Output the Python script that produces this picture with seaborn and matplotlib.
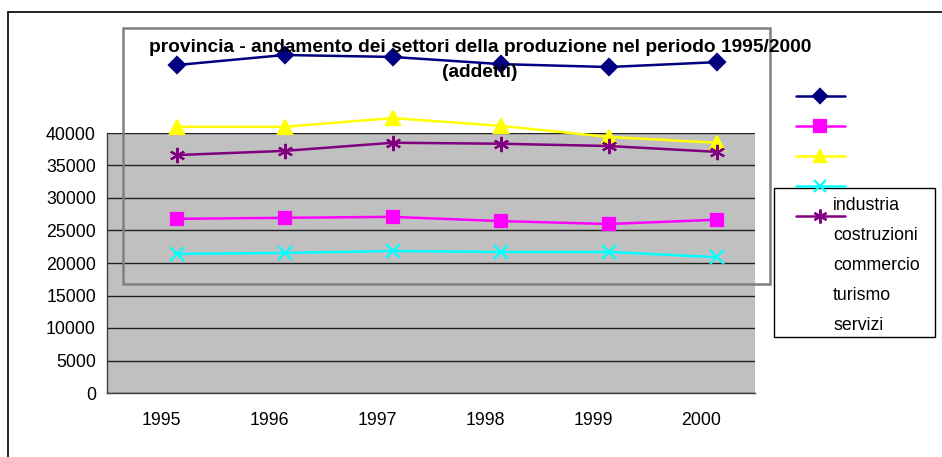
"""
Grafico: andamento dei settori della produzione 1995/2000 (addetti)
"""
import matplotlib
matplotlib.use('Agg')
import matplotlib.pyplot as plt
import matplotlib.transforms as mtrans
from matplotlib.lines import Line2D
from matplotlib.patches import Rectangle
import seaborn as sns
import pandas as pd

# Dati
anni = ['1995', '1996', '1997', '1998', '1999', '2000']
industria = [50450, 52000, 51700, 50600, 50150, 50900]
costruzioni = [26800, 26950, 27100, 26450, 26000, 26650]
commercio = [40950, 40950, 42300, 41100, 39400, 38500]
turismo = [21400, 21550, 21850, 21700, 21700, 20900]
servizi = [36600, 37250, 38500, 38350, 38000, 37100]

settori = ['industria', 'costruzioni', 'commercio', 'turismo', 'servizi']
valori = [industria, costruzioni, commercio, turismo, servizi]
colori = ['#000080', '#FF00FF', '#FFFF00', '#00FFFF', '#800080']
marcatori = ['D', 's', '^', 'x', (6, 2, 0)]
dim_marc = [8, 9, 10, 10, 11]

sns.set_style("white")
plt.rcParams['font.family'] = ['Liberation Sans', 'DejaVu Sans']
plt.rcParams['text.color'] = 'black'
plt.rcParams['xtick.color'] = 'black'
plt.rcParams['ytick.color'] = 'black'
plt.rcParams['xtick.labelcolor'] = 'black'
plt.rcParams['ytick.labelcolor'] = 'black'

W, H = 942, 457
fig = plt.figure(figsize=(W / 100, H / 100), dpi=100)


def fx(px):
    return px / W


def fy(py):
    return 1 - py / H


# area del grafico in pixel: x 107-755, y 133-393
ax = fig.add_axes([fx(107), fy(393), fx(755) - fx(107), fy(133) - fy(393)])
ax.set_facecolor('#C0C0C0')

for nome, vals, col, mk, ms in zip(settori, valori, colori, marcatori, dim_marc):
    df = pd.DataFrame({'x': range(len(anni)), 'y': vals})
    sns.lineplot(data=df, x='x', y='y', ax=ax, color=col, marker=mk,
                 markersize=ms, markeredgecolor=col, markerfacecolor=col,
                 markeredgewidth=1.6, linewidth=1.8, clip_on=False, zorder=5)

# in Excel i punti sono spostati a destra rispetto al centro della categoria
sposta = mtrans.ScaledTranslation(0.155, 0, fig.dpi_scale_trans)
for ln in ax.lines:
    ln.set_transform(ax.transData + sposta)

ax.set_xlim(-0.5, len(anni) - 0.5)
ax.set_ylim(0, 40000)
ax.set_yticks(range(0, 40001, 5000))
ax.set_xticks(range(len(anni)))
ax.set_xticklabels(anni)
ax.set_xticks([i - 0.5 for i in range(len(anni) + 1)], minor=True)
ax.tick_params(axis='x', which='major', length=0, pad=14, labelsize=12.8)
ax.tick_params(axis='x', which='minor', length=5, direction='out', width=1, color='#404040')
ax.tick_params(axis='y', length=5, direction='out', width=1, color='#404040', labelsize=12.8, pad=3)
ax.yaxis.grid(True, color='#202020', linewidth=1)
ax.set_axisbelow(True)
ax.set_xlabel('')
ax.set_ylabel('')
for s in ['top', 'right']:
    ax.spines[s].set_visible(False)
for s in ['left', 'bottom']:
    ax.spines[s].set_color('#404040')
    ax.spines[s].set_linewidth(1)

# bordo esterno (solo sinistra e alto)
fig.add_artist(Line2D([fx(8), fx(8)], [fy(12), 0], color='black', linewidth=1.2))
fig.add_artist(Line2D([fx(8), 1], [fy(12), fy(12)], color='black', linewidth=1.2))

# riquadro del titolo
fig.add_artist(Rectangle((fx(123), fy(284)), fx(770) - fx(123), fy(28) - fy(284),
                         fill=False, edgecolor='#808080', linewidth=1.8, zorder=10))
fig.text(fx(480), fy(47), 'provincia - andamento dei settori della produzione nel periodo 1995/2000',
         ha='center', va='center', fontsize=13.8, fontweight='bold', color='black', zorder=11)
fig.text(fx(480), fy(72), '(addetti)', ha='center', va='center', fontsize=13.8,
         fontweight='bold', color='black', zorder=11)

# legenda
fig.add_artist(Rectangle((fx(774), fy(337)), fx(935) - fx(774), fy(188) - fy(337),
                         facecolor='white', edgecolor='black', linewidth=1, zorder=10))
for i, (nome, col, mk, ms) in enumerate(zip(settori, colori, marcatori, dim_marc)):
    yk = 96 + 30 * i
    fig.add_artist(Line2D([fx(796), fx(845)], [fy(yk), fy(yk)], color=col, linewidth=1.8, zorder=12))
    fig.add_artist(Line2D([fx(820)], [fy(yk)], color=col, marker=mk, markersize=ms - 1,
                          markeredgecolor=col, markerfacecolor=col, markeredgewidth=1.6, zorder=12))
    fig.text(fx(833), fy(205 + 30 * i), nome, ha='left', va='center', fontsize=12.8,
             color='black', zorder=13)

plt.savefig('out.png', dpi=100)
plt.close()
